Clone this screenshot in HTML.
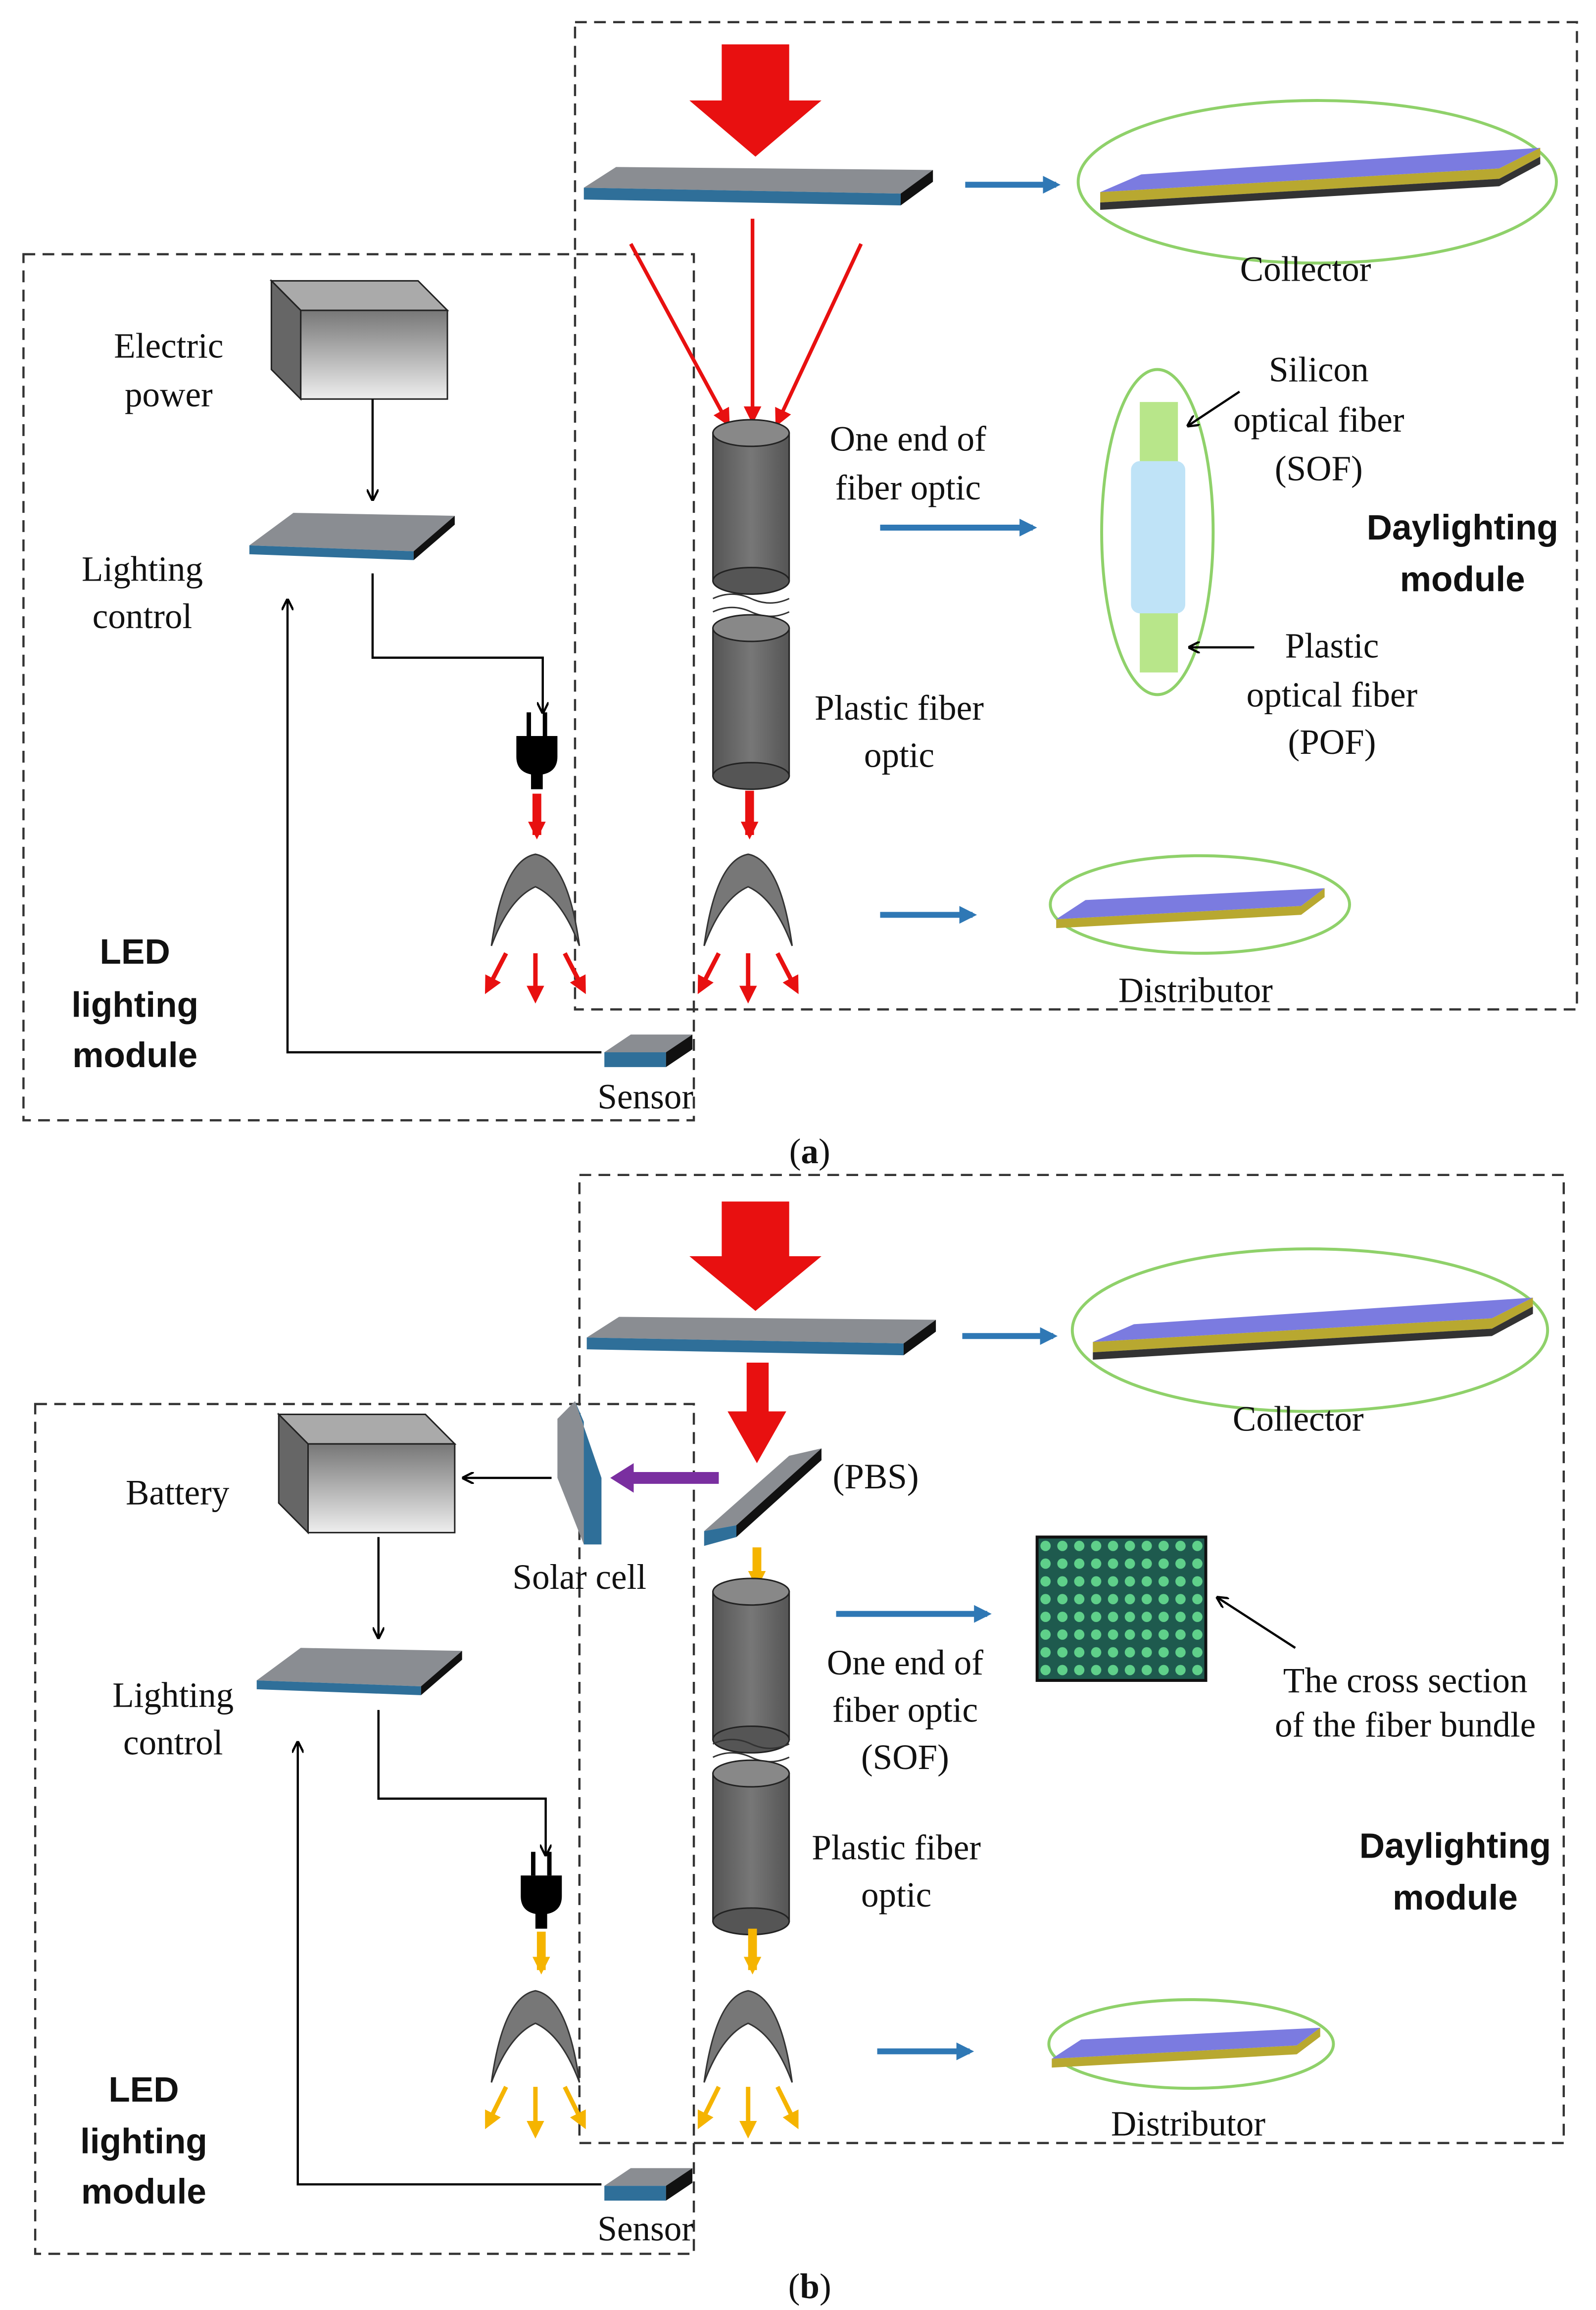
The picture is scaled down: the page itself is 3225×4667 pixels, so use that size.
<!DOCTYPE html>
<html><head><meta charset="utf-8"><style>
html,body{margin:0;padding:0;background:#fff}
svg{display:block}
text{font-family:"Liberation Serif",serif;font-size:24px;fill:#111}
.b{font-family:"Liberation Sans",sans-serif;font-weight:bold;font-size:24px}
</style></head><body>
<svg width="3225" height="4667" viewBox="0 0 1088 1563" preserveAspectRatio="none" xmlns="http://www.w3.org/2000/svg">
<defs>
<marker id="mk" markerWidth="8" markerHeight="8" refX="7" refY="4" orient="auto" markerUnits="userSpaceOnUse"><path d="M0,0 L8,4 L0,8" fill="none" stroke="#000" stroke-width="1.5"/></marker>
<marker id="mr" markerWidth="12" markerHeight="12" refX="9" refY="6" orient="auto" markerUnits="userSpaceOnUse"><path d="M0,0 L12,6 L0,12Z" fill="#e81010"/></marker>
<marker id="my" markerWidth="12" markerHeight="12" refX="9" refY="6" orient="auto" markerUnits="userSpaceOnUse"><path d="M0,0 L12,6 L0,12Z" fill="#f5b400"/></marker>
<marker id="mb" markerWidth="12" markerHeight="12" refX="9" refY="6" orient="auto" markerUnits="userSpaceOnUse"><path d="M0,0 L12,6 L0,12Z" fill="#2f78b5"/></marker>
<linearGradient id="gbox" x1="0" y1="0" x2="0" y2="1"><stop offset="0" stop-color="#777"/><stop offset="1" stop-color="#eee"/></linearGradient>
<linearGradient id="gcyl" x1="0" y1="0" x2="1" y2="0"><stop offset="0" stop-color="#555"/><stop offset=".5" stop-color="#777"/><stop offset="1" stop-color="#555"/></linearGradient>
<g id="cyl"><rect x="0" y="0" width="52" height="100" fill="url(#gcyl)" stroke="#222"/><ellipse cx="26" cy="100" rx="26" ry="9" fill="#555" stroke="#222"/><ellipse cx="26" cy="0" rx="26" ry="9" fill="#888" stroke="#222"/></g>
<g id="refl"><path d="M-30,62 Q-22,4 0,0 Q22,4 30,62 Q18,30 0,22 Q-18,30 -30,62Z" fill="#777" stroke="#333"/></g>
<g id="plate"><polygon points="0,24 30,2 140,4 112,28" fill="#8a8d92"/><polygon points="0,24 112,28 112,34 0,30" fill="#2f6f99"/><polygon points="112,28 140,4 140,10 112,34" fill="#111"/></g>
<g id="bigplate"><polygon points="0,14 22,0 238,2 216,18" fill="#8a8d92"/><polygon points="0,14 216,18 216,26 0,22" fill="#2f6f99"/><polygon points="216,18 238,2 238,10 216,26" fill="#111"/></g>
<g id="box"><polygon points="0,0 100,0 120,20 20,20" fill="#aaa" stroke="#222"/><rect x="20" y="20" width="100" height="60" fill="url(#gbox)" stroke="#222"/><polygon points="0,0 20,20 20,80 0,60" fill="#666" stroke="#222"/></g>
<g id="plug"><rect x="-7" y="0" width="3" height="16" fill="#000"/><rect x="4" y="0" width="3" height="16" fill="#000"/><path d="M-14,16 H14 V30 Q14,40 4,42 V52 H-4 V42 Q-14,40 -14,30Z" fill="#000"/></g>
<g id="coll"><polygon points="-148,2 -120,-10 152,-28 124,-14" fill="#7b7be0"/><polygon points="-148,2 124,-14 152,-28 152,-22 124,-7 -148,9" fill="#b8a830"/><polygon points="-148,9 124,-7 152,-22 152,-17 124,-2 -148,14" fill="#333"/></g>
<g id="dist"><polygon points="-95,5 -75,-8 88,-16 72,-4" fill="#7b7be0"/><polygon points="-95,5 72,-4 88,-16 88,-10 72,2 -95,11" fill="#b8a830"/></g>
<g id="sensor"><polygon points="0,12 18,0 60,0 42,12" fill="#8a8d92"/><polygon points="0,12 42,12 42,22 0,22" fill="#2f6f99"/><polygon points="42,12 60,0 60,10 42,22" fill="#111"/></g>
</defs>

<!-- ===== (a) ===== -->
<rect x="392" y="15" width="683" height="668" fill="none" stroke="#333" stroke-width="1.5" stroke-dasharray="8,5"/>
<rect x="16" y="172" width="457" height="586" fill="none" stroke="#333" stroke-width="1.5" stroke-dasharray="8,5"/>
<polygon points="492,30 538,30 538,68 560,68 515,106 470,68 492,68" fill="#e81010"/>
<use href="#bigplate" x="398" y="113"/>
<line x1="658" y1="125" x2="720" y2="125" stroke="#2f78b5" stroke-width="4" marker-end="url(#mb)"/>
<ellipse cx="898" cy="123" rx="163" ry="55" fill="none" stroke="#8fd16a" stroke-width="2"/>
<use href="#coll" x="898" y="128"/>
<text x="890" y="190" text-anchor="middle">Collector</text>
<line x1="430" y1="165" x2="496" y2="286" stroke="#e81010" stroke-width="2.5" marker-end="url(#mr)"/>
<line x1="513" y1="148" x2="513" y2="284" stroke="#e81010" stroke-width="2.5" marker-end="url(#mr)"/>
<line x1="587" y1="165" x2="530" y2="286" stroke="#e81010" stroke-width="2.5" marker-end="url(#mr)"/>
<use href="#cyl" x="486" y="293"/>
<path d="M486,405 q13,-6 26,0 t26,0 M486,414 q13,-6 26,0 t26,0" fill="none" stroke="#333"/>
<use href="#cyl" x="486" y="425"/>
<text x="619" y="305" text-anchor="middle">One end of</text>
<text x="619" y="338" text-anchor="middle">fiber optic</text>
<line x1="600" y1="357" x2="704" y2="357" stroke="#2f78b5" stroke-width="4" marker-end="url(#mb)"/>
<ellipse cx="789" cy="360" rx="38" ry="110" fill="none" stroke="#8fd16a" stroke-width="2"/>
<rect x="777" y="272" width="26" height="183" fill="#b8e68a"/>
<rect x="771" y="312" width="37" height="103" rx="6" fill="#bfe3f7"/>
<text x="899" y="258" text-anchor="middle">Silicon</text>
<text x="899" y="292" text-anchor="middle">optical fiber</text>
<text x="899" y="325" text-anchor="middle">(SOF)</text>
<line x1="845" y1="265" x2="810" y2="288" stroke="#000" stroke-width="1.5" marker-end="url(#mk)"/>
<text x="908" y="445" text-anchor="middle">Plastic</text>
<text x="908" y="478" text-anchor="middle">optical fiber</text>
<text x="908" y="510" text-anchor="middle">(POF)</text>
<line x1="855" y1="438" x2="811" y2="438" stroke="#000" stroke-width="1.5" marker-end="url(#mk)"/>
<text x="997" y="365" text-anchor="middle" class="b">Daylighting</text>
<text x="997" y="400" text-anchor="middle" class="b">module</text>
<text x="613" y="487" text-anchor="middle">Plastic fiber</text>
<text x="613" y="519" text-anchor="middle">optic</text>
<line x1="511" y1="535" x2="511" y2="565" stroke="#e81010" stroke-width="6" marker-end="url(#mr)"/>
<use href="#refl" x="510" y="578"/>
<g stroke="#e81010" stroke-width="3"><line x1="490" y1="645" x2="477" y2="670" marker-end="url(#mr)"/><line x1="510" y1="645" x2="510" y2="676" marker-end="url(#mr)"/><line x1="530" y1="645" x2="543" y2="670" marker-end="url(#mr)"/></g>
<line x1="600" y1="619" x2="663" y2="619" stroke="#2f78b5" stroke-width="4" marker-end="url(#mb)"/>
<ellipse cx="818" cy="612" rx="102" ry="33" fill="none" stroke="#8fd16a" stroke-width="2"/>
<use href="#dist" x="815" y="617"/>
<text x="815" y="678" text-anchor="middle">Distributor</text>
<use href="#box" x="185" y="190"/>
<text x="115" y="242" text-anchor="middle">Electric</text>
<text x="115" y="275" text-anchor="middle">power</text>
<line x1="254" y1="270" x2="254" y2="338" stroke="#000" stroke-width="1.5" marker-end="url(#mk)"/>
<use href="#plate" x="170" y="345"/>
<text x="97" y="393" text-anchor="middle">Lighting</text>
<text x="97" y="425" text-anchor="middle">control</text>
<polyline points="254,388 254,445 370,445 370,482" fill="none" stroke="#000" stroke-width="1.5" marker-end="url(#mk)"/>
<use href="#plug" x="366" y="482"/>
<line x1="366" y1="537" x2="366" y2="565" stroke="#e81010" stroke-width="6" marker-end="url(#mr)"/>
<use href="#refl" x="365" y="578"/>
<g stroke="#e81010" stroke-width="3"><line x1="345" y1="645" x2="332" y2="670" marker-end="url(#mr)"/><line x1="365" y1="645" x2="365" y2="676" marker-end="url(#mr)"/><line x1="385" y1="645" x2="398" y2="670" marker-end="url(#mr)"/></g>
<text x="92" y="652" text-anchor="middle" class="b">LED</text>
<text x="92" y="688" text-anchor="middle" class="b">lighting</text>
<text x="92" y="722" text-anchor="middle" class="b">module</text>
<use href="#sensor" x="412" y="700"/>
<text x="440" y="750" text-anchor="middle">Sensor</text>
<polyline points="410,712 196,712 196,406" fill="none" stroke="#000" stroke-width="1.5" marker-end="url(#mk)"/>
<text x="552" y="787" text-anchor="middle">(<tspan font-weight="bold">a</tspan>)</text>

<!-- ===== (b) ===== -->
<rect x="395" y="795" width="671" height="655" fill="none" stroke="#333" stroke-width="1.5" stroke-dasharray="8,5"/>
<rect x="24" y="950" width="449" height="575" fill="none" stroke="#333" stroke-width="1.5" stroke-dasharray="8,5"/>
<polygon points="492,813 538,813 538,850 560,850 515,887 470,850 492,850" fill="#e81010"/>
<use href="#bigplate" x="400" y="891"/>
<line x1="656" y1="904" x2="718" y2="904" stroke="#2f78b5" stroke-width="4" marker-end="url(#mb)"/>
<ellipse cx="893" cy="900" rx="162" ry="55" fill="none" stroke="#8fd16a" stroke-width="2"/>
<use href="#coll" x="893" y="906"/>
<text x="885" y="968" text-anchor="middle">Collector</text>
<polygon points="509,922 524,922 524,955 536,955 516,990 496,955 509,955" fill="#e81010"/>
<polygon points="480,1036 538,985 560,980 502,1032" fill="#8a8d92"/>
<polygon points="480,1036 502,1032 502,1040 480,1046" fill="#2f6f99"/>
<polygon points="502,1032 560,980 560,988 502,1040" fill="#111"/>
<text x="597" y="1007" text-anchor="middle">(PBS)</text>
<line x1="490" y1="1000" x2="430" y2="1000" stroke="#7a2fa0" stroke-width="8"/>
<polygon points="432,990 416,1000 432,1010" fill="#7a2fa0"/>
<polygon points="380,960 392,948 410,1000 410,1045 398,1045 380,1000" fill="#8a8d92"/>
<polygon points="398,1045 410,1045 410,1000 392,948 398,962" fill="#2f6f99"/>
<text x="395" y="1075" text-anchor="middle">Solar cell</text>
<line x1="376" y1="1000" x2="316" y2="1000" stroke="#000" stroke-width="1.5" marker-end="url(#mk)"/>
<use href="#box" x="190" y="957"/>
<text x="121" y="1018" text-anchor="middle">Battery</text>
<line x1="258" y1="1040" x2="258" y2="1108" stroke="#000" stroke-width="1.5" marker-end="url(#mk)"/>
<use href="#plate" x="175" y="1113"/>
<text x="118" y="1155" text-anchor="middle">Lighting</text>
<text x="118" y="1187" text-anchor="middle">control</text>
<polyline points="258,1157 258,1217 372,1217 372,1255" fill="none" stroke="#000" stroke-width="1.5" marker-end="url(#mk)"/>
<use href="#plug" x="369" y="1253"/>
<line x1="369" y1="1307" x2="369" y2="1333" stroke="#f5b400" stroke-width="6" marker-end="url(#my)"/>
<use href="#refl" x="365" y="1347"/>
<g stroke="#f5b400" stroke-width="3"><line x1="345" y1="1412" x2="332" y2="1438" marker-end="url(#my)"/><line x1="365" y1="1412" x2="365" y2="1444" marker-end="url(#my)"/><line x1="385" y1="1412" x2="398" y2="1438" marker-end="url(#my)"/></g>
<line x1="516" y1="1047" x2="516" y2="1072" stroke="#f5b400" stroke-width="6" marker-end="url(#my)"/>
<use href="#cyl" x="486" y="1077"/>
<path d="M486,1180 q13,-6 26,0 t26,0 M486,1189 q13,-6 26,0 t26,0" fill="none" stroke="#333"/>
<use href="#cyl" x="486" y="1200"/>
<text x="617" y="1133" text-anchor="middle">One end of</text>
<text x="617" y="1165" text-anchor="middle">fiber optic</text>
<text x="617" y="1197" text-anchor="middle">(SOF)</text>
<line x1="570" y1="1092" x2="673" y2="1092" stroke="#2f78b5" stroke-width="4" marker-end="url(#mb)"/>
<rect x="707" y="1040" width="115" height="97" fill="#1e5a4e" stroke="#111" stroke-width="2"/>
<pattern id="dots" x="707" y="1040" width="11.5" height="12" patternUnits="userSpaceOnUse"><circle cx="5.75" cy="6" r="3.5" fill="#5fd08a"/></pattern>
<rect x="709" y="1042" width="111" height="93" fill="url(#dots)"/>
<line x1="883" y1="1115" x2="830" y2="1081" stroke="#000" stroke-width="1.5" marker-end="url(#mk)"/>
<text x="958" y="1145" text-anchor="middle">The cross section</text>
<text x="958" y="1175" text-anchor="middle">of the fiber bundle</text>
<text x="611" y="1258" text-anchor="middle">Plastic fiber</text>
<text x="611" y="1290" text-anchor="middle">optic</text>
<text x="992" y="1257" text-anchor="middle" class="b">Daylighting</text>
<text x="992" y="1292" text-anchor="middle" class="b">module</text>
<line x1="513" y1="1305" x2="513" y2="1333" stroke="#f5b400" stroke-width="6" marker-end="url(#my)"/>
<use href="#refl" x="510" y="1347"/>
<g stroke="#f5b400" stroke-width="3"><line x1="490" y1="1412" x2="477" y2="1438" marker-end="url(#my)"/><line x1="510" y1="1412" x2="510" y2="1444" marker-end="url(#my)"/><line x1="530" y1="1412" x2="543" y2="1438" marker-end="url(#my)"/></g>
<line x1="598" y1="1388" x2="661" y2="1388" stroke="#2f78b5" stroke-width="4" marker-end="url(#mb)"/>
<ellipse cx="812" cy="1383" rx="97" ry="30" fill="none" stroke="#8fd16a" stroke-width="2"/>
<use href="#dist" x="812" y="1388"/>
<text x="810" y="1445" text-anchor="middle">Distributor</text>
<text x="98" y="1422" text-anchor="middle" class="b">LED</text>
<text x="98" y="1457" text-anchor="middle" class="b">lighting</text>
<text x="98" y="1491" text-anchor="middle" class="b">module</text>
<use href="#sensor" x="412" y="1467"/>
<text x="440" y="1516" text-anchor="middle">Sensor</text>
<polyline points="410,1478 203,1478 203,1179" fill="none" stroke="#000" stroke-width="1.5" marker-end="url(#mk)"/>
<text x="552" y="1555" text-anchor="middle">(<tspan font-weight="bold">b</tspan>)</text>
</svg>
</body></html>
